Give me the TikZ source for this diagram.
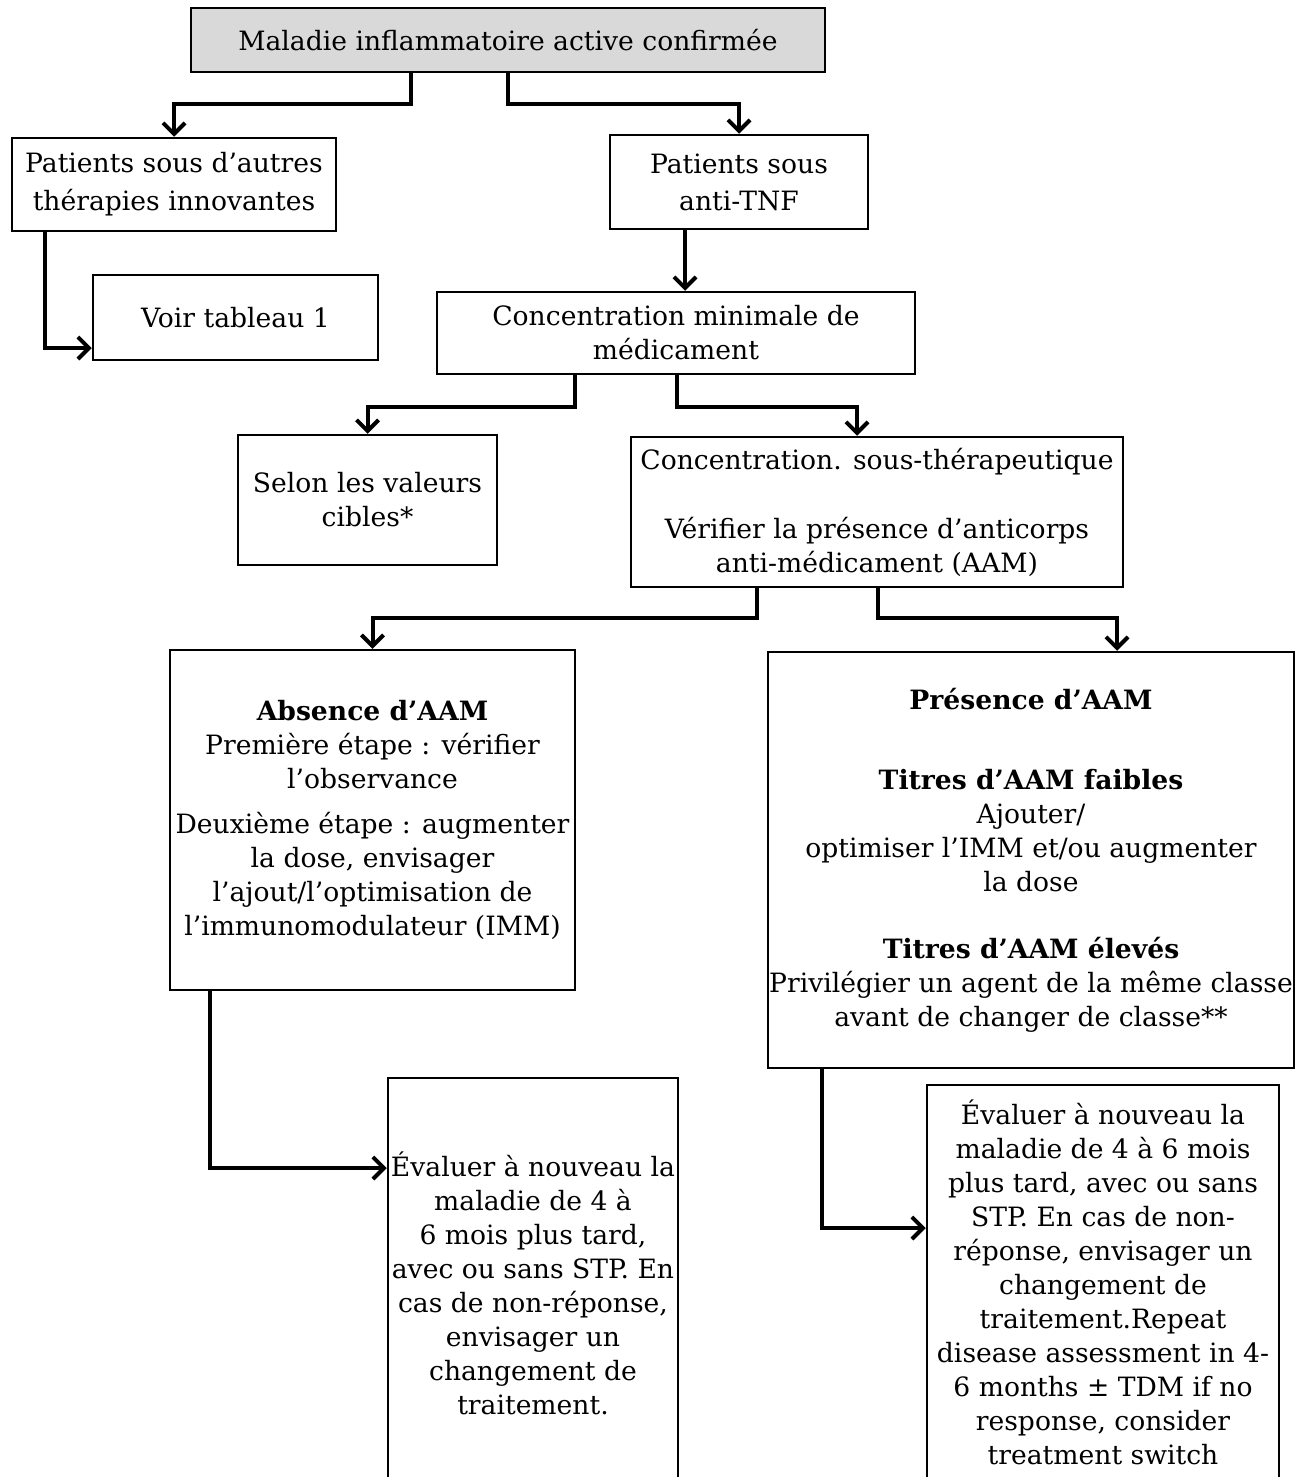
\documentclass[tikz,border=0pt]{standalone}
\usepackage{fontspec}
\setmainfont{DejaVu Serif}
\usetikzlibrary{arrows.meta}

\begin{document}
\begin{tikzpicture}[x=1pt,y=-1pt,
	box/.style={draw,line width=2.5pt,align=center,inner sep=0pt,font=\fontsize{26.6}{34}\selectfont},
	>={Straight Barb[length=11pt,width=22pt]},
	link/.style={->,line width=4pt}]
	\clip (0,0) rectangle (1302,1477);
	\node[box,fill=black!15,minimum width=634pt,minimum height=64pt] (start) at (508,40) {Maladie inflammatoire active confirmée};
	\node[box,minimum width=324pt,minimum height=93pt] (autres) at (174,184.5) {Patients sous d’autres\\[4pt]thérapies innovantes};
	\node[box,minimum width=285pt,minimum height=85pt] (voir) at (235.5,317.5) {Voir tableau 1};
	\node[box,minimum width=258pt,minimum height=94pt] (antitnf) at (739,182) {Patients sous\\[3pt]anti-TNF};
	\node[box,minimum width=478pt,minimum height=82pt] (concmin) at (676,333) {Concentration minimale de\\médicament};
	\node[box,minimum width=259pt,minimum height=130pt] (selon) at (367.5,500) {Selon les valeurs\\cibles*};
	\node[box,minimum width=492pt,minimum height=150pt] (concsous) at (877,512) {Concentration. sous-thérapeutique\\[35pt]Vérifier la présence d’anticorps\\anti-médicament (AAM)};
	\node[box,minimum width=405pt,minimum height=340pt] (absence) at (372.5,820) {\textbf{Absence d’AAM}\\Première étape : vérifier\\l’observance\\[11pt]Deuxième étape : augmenter\\la dose, envisager\\l’ajout/l’optimisation de\\l’immunomodulateur (IMM)};
	\node[box,minimum width=526pt,minimum height=416pt] (presence) at (1031,860) {\textbf{Présence d’AAM}\\[46pt]\textbf{Titres d’AAM faibles}\\Ajouter/\\optimiser l’IMM et/ou augmenter\\la dose\\[33pt]\textbf{Titres d’AAM élevés}\\Privilégier un agent de la même classe\\avant de changer de classe**};
	\node[box,minimum width=290pt,minimum height=411pt] (evalA) at (533,1283.5) {Évaluer à nouveau la\\maladie de 4 à\\6 mois plus tard,\\avec ou sans STP. En\\cas de non-réponse,\\envisager un\\changement de\\traitement.};
	\node[box,minimum width=352pt,minimum height=394pt] (evalB) at (1103,1282) {Évaluer à nouveau la\\maladie de 4 à 6 mois\\plus tard, avec ou sans\\STP. En cas de non-\\réponse, envisager un\\changement de\\traitement.Repeat\\disease assessment in 4-\\6 months ± TDM if no\\response, consider\\treatment switch};
	% connectors
	\draw[link] ([xshift=-97pt]start.south) -- ++(0,31) -| (autres.north);
	\draw[link] (start.south) -- ++(0,31) -| (antitnf.north);
	\draw[link] ([xshift=-129pt]autres.south) |- ([yshift=-30.5pt]voir.west);
	\draw[link] ([xshift=9pt]concmin.north |- antitnf.south) -- ([xshift=9pt]concmin.north);
	\draw[link] ([xshift=-101pt]concmin.south) -- ++(0,32) -| (selon.north);
	\draw[link] ([xshift=1pt]concmin.south) -- ++(0,32) -| ([xshift=-20pt]concsous.north);
	\draw[link] ([xshift=-120pt]concsous.south) -- ++(0,30) -| (absence.north);
	\draw[link] ([xshift=1pt]concsous.south) -- ++(0,30) -| ([xshift=86pt]presence.north);
	\draw[link] ([xshift=-162.5pt]absence.south) |- ([yshift=115.5pt]evalA.west);
	\draw[link] ([xshift=-209pt]presence.south) |- ([yshift=54pt]evalB.west);
\end{tikzpicture}
\end{document}
